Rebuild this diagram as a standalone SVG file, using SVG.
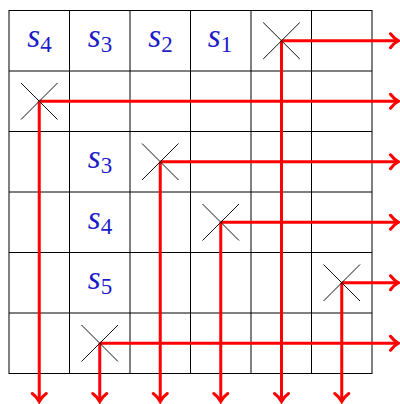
<svg xmlns="http://www.w3.org/2000/svg" width="400" height="404" viewBox="0 0 400 404">
<style>
.grid{stroke:#000;stroke-width:1;fill:none}
.x{stroke:#111;stroke-width:1;fill:none}
.wire{stroke:#ff0000;stroke-width:3;fill:none;stroke-linecap:butt}
text{font-family:'Liberation Serif',serif;font-size:33px;font-style:italic;fill:#1c1cc8;text-anchor:middle}
tspan{font-size:23px;font-style:normal}
</style>
<defs>
<marker id="arr" markerUnits="userSpaceOnUse" markerWidth="20" markerHeight="20" viewBox="-10 -10 20 20" refX="0" refY="0" orient="auto" overflow="visible">
<path d="M-8,-7 C-5,-3 -2,-1 0,0 C-2,1 -5,3 -8,7" stroke="#ff0000" stroke-width="3" fill="none" stroke-linecap="round"/>
</marker>
</defs>
<rect width="400" height="404" fill="#fff"/>
<g id="grid" class="grid">
<rect x="9" y="10.5" width="363" height="363"/>
<path d="M69.5,10.5V373.5M130,10.5V373.5M190.5,10.5V373.5M251,10.5V373.5M311.5,10.5V373.5M9,71H372M9,131.5H372M9,192H372M9,252.5H372M9,313H372"/>
</g>
<g id="labels">
<g id="l-s4a"><text x="39.5" y="47">s<tspan dy="5">4</tspan></text></g>
<g id="l-s3a"><text x="100" y="47">s<tspan dy="5">3</tspan></text></g>
<g id="l-s2"><text x="160.5" y="47">s<tspan dy="5">2</tspan></text></g>
<g id="l-s1"><text x="220" y="47">s<tspan dy="5">1</tspan></text></g>
<g id="l-s3b"><text x="100" y="168">s<tspan dy="5">3</tspan></text></g>
<g id="l-s4b"><text x="100" y="228.5">s<tspan dy="5">4</tspan></text></g>
<g id="l-s5"><text x="100" y="289">s<tspan dy="5">5</tspan></text></g>
</g>
<g id="connectors" class="wire">
<path d="M281.5,40.75H398.5" marker-end="url(#arr)"/>
<path d="M281.5,40.75V401.5" marker-end="url(#arr)"/>
<path d="M39.25,101.25H398.5" marker-end="url(#arr)"/>
<path d="M39.25,101.25V401.5" marker-end="url(#arr)"/>
<path d="M160.25,161.75H398.5" marker-end="url(#arr)"/>
<path d="M160.25,161.75V401.5" marker-end="url(#arr)"/>
<path d="M220.75,222.25H398.5" marker-end="url(#arr)"/>
<path d="M220.75,222.25V401.5" marker-end="url(#arr)"/>
<path d="M341.75,282.75H398.5" marker-end="url(#arr)"/>
<path d="M341.75,282.75V401.5" marker-end="url(#arr)"/>
<path d="M99.75,343.25H398.5" marker-end="url(#arr)"/>
<path d="M99.75,343.25V401.5" marker-end="url(#arr)"/>
</g>
<g id="crosses" class="x">
<g id="x1"><path d="M263.2,22.5L299.8,59M263.2,59L299.8,22.5"/></g>
<g id="x2"><path d="M21,83L57.5,119.5M21,119.5L57.5,83"/></g>
<g id="x3"><path d="M142,143.5L178.5,180M142,180L178.5,143.5"/></g>
<g id="x4"><path d="M202.5,204L239,240.5M202.5,240.5L239,204"/></g>
<g id="x5"><path d="M323.5,264.5L360,301M323.5,301L360,264.5"/></g>
<g id="x6"><path d="M81.5,325L118,361.5M81.5,361.5L118,325"/></g>
</g>
</svg>
